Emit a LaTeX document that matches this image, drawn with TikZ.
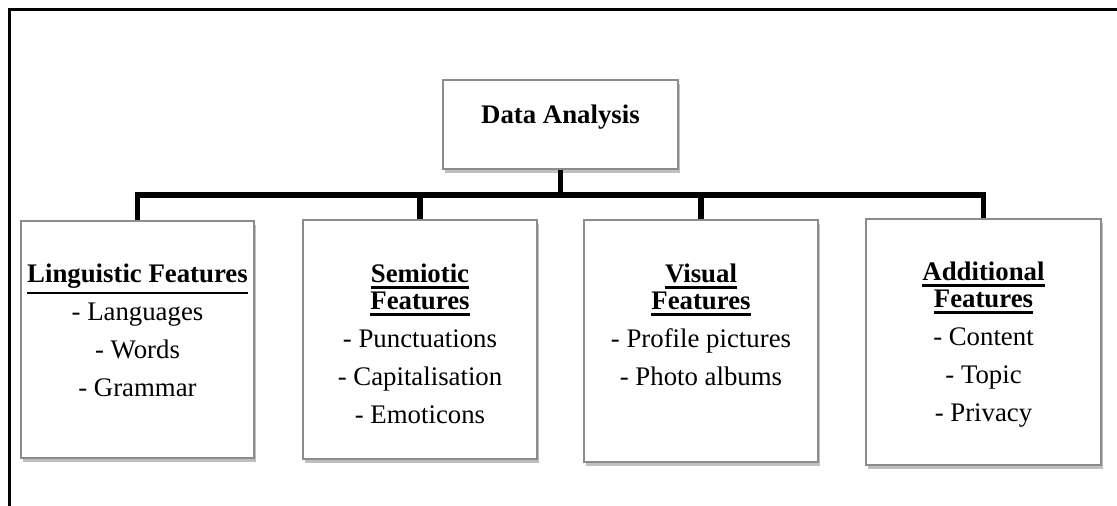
\documentclass[tikz,border=0pt]{standalone}
\usepackage{fontspec}
\setmainfont{Liberation Serif}
\usetikzlibrary{shadows}
\newcommand\myul[1]{\leavevmode\vtop{\hbox{#1}\kern3.2pt\hrule height 2.4pt}}
\begin{document}
\begin{tikzpicture}[x=1pt,y=-1pt,
  boxstyle/.style={draw=black!45, line width=1.2pt, fill=white, inner sep=0pt,
    drop shadow={shadow xshift=1.5pt, shadow yshift=-3.5pt, fill=black, opacity=0.25}},
  txt/.style={align=center, inner sep=0pt, anchor=north, font=\fontsize{26.8}{38}\selectfont},
  conn/.style={line width=5.5pt, line join=miter},
  framestyle/.style={line width=3pt}]
\useasboundingbox (0,0) rectangle (1117,506);
\draw[framestyle] (9,506) -- (9,9) -- (1117,9);

\node[boxstyle, minimum width=235pt, minimum height=89pt] (da) at (560.5,124.5) {};
\node[boxstyle, minimum width=233pt, minimum height=237pt] (b1) at (137.5,339.5) {};
\node[boxstyle, minimum width=234pt, minimum height=239pt] (b2) at (420,339.5) {};
\node[boxstyle, minimum width=234pt, minimum height=242pt] (b3) at (701,341) {};
\node[boxstyle, minimum width=235pt, minimum height=246pt] (b4) at (983.5,342) {};

\node[txt] (tda) at (560.5,105) {\textbf{Data Analysis}};
\node[txt] (t1) at (137.5,264) {\myul{\textbf{Linguistic Features}}\\- Languages\\- Words\\- Grammar};
\node[txt] (t2) at (420,264) {\myul{\textbf{Semiotic}}\\[-11pt]\myul{\textbf{Features}}\\- Punctuations\\- Capitalisation\\- Emoticons};
\node[txt] (t3) at (701,264) {\myul{\textbf{Visual}}\\[-11pt]\myul{\textbf{Features}}\\- Profile pictures\\- Photo albums};
\node[txt] (t4) at (983.5,262) {\myul{\textbf{Additional}}\\[-11pt]\myul{\textbf{Features}}\\- Content\\- Topic\\- Privacy};

\coordinate (bus) at (560,195);
\draw[conn] (da.south) -- (da.south |- bus);
\draw[conn] (b1.north) -- (b1.north |- bus) -- (b4.north |- bus) -- (b4.north);
\draw[conn] (b2.north) -- (b2.north |- bus);
\draw[conn] (b3.north) -- (b3.north |- bus);
\end{tikzpicture}
\end{document}
